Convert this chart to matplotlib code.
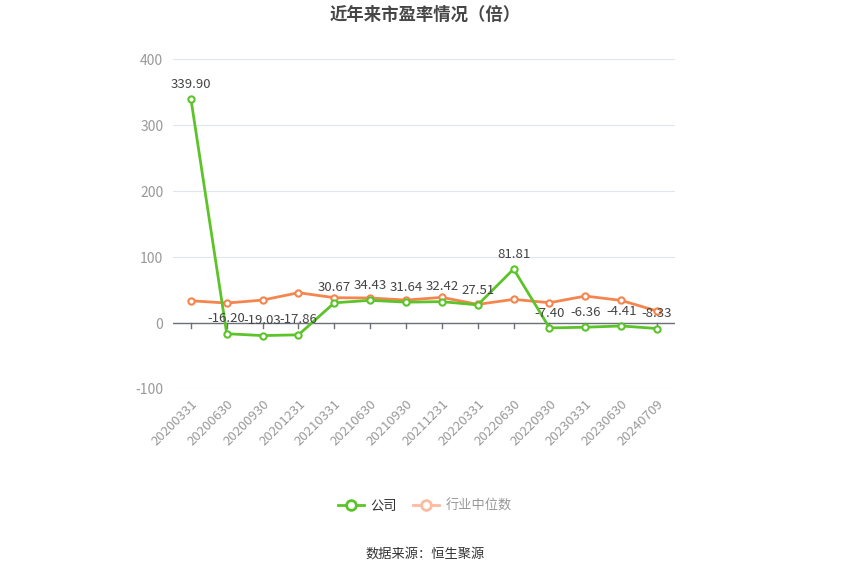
import matplotlib
matplotlib.use('Agg')
import matplotlib.pyplot as plt
from matplotlib.lines import Line2D

plt.rcParams['font.family'] = ['Noto Sans CJK SC', 'DejaVu Sans']
plt.rcParams['axes.unicode_minus'] = False

dates = ['20200331', '20200630', '20200930', '20201231', '20210331', '20210630',
         '20210930', '20211231', '20220331', '20220630', '20220930', '20230331',
         '20230630', '20240709']
company = [339.90, -16.20, -19.03, -17.86, 30.67, 34.43, 31.64, 32.42, 27.51,
           81.81, -7.40, -6.36, -4.41, -8.33]
industry = [33.8, 30.3, 34.8, 46.0, 38.4, 38.0, 34.8, 38.9, 28.3, 35.9, 30.8,
            40.9, 34.3, 18.2]

green = '#5cc42a'
orange = '#f5854f'

fig = plt.figure(figsize=(8.5, 5.75), dpi=100)
ax = fig.add_axes([0.2035, 0.3235, 0.5906, 0.5735])

x = list(range(len(dates)))
ax.plot(x, industry, color=orange, lw=2, marker='o', ms=4.5, mfc='white',
        mec=orange, mew=1.5, zorder=3)
ax.plot(x, company, color=green, lw=2, marker='o', ms=4.5, mfc='white',
        mec=green, mew=1.5, zorder=4)

for xi, v in zip(x, company):
    ax.annotate(f'{v:.2f}', (xi, v), xytext=(0, 6), textcoords='offset points',
                ha='center', va='bottom', fontsize=9.5, color='#444444', zorder=5)

ax.set_xlim(-0.5, len(dates) - 0.5)
ax.set_ylim(-100, 400)
ax.set_yticks([-100, 0, 100, 200, 300, 400])
ax.grid(axis='y', color='#e0e6f1', lw=0.8)
ax.set_axisbelow(True)
ax.axhline(0, color='#6e7079', lw=1, zorder=2)
for s in ax.spines.values():
    s.set_visible(False)

ax.set_xticks(x)
ax.set_xticklabels(dates, rotation=45, ha='right', rotation_mode='anchor',
                   fontsize=9.5, color='#999999')
ax.tick_params(axis='x', length=0, pad=6)
ax.tick_params(axis='y', length=0, labelsize=10, labelcolor='#999999', pad=7)
for xi in x:
    ax.plot([xi, xi], [0, -7], color='#6e7079', lw=1, zorder=2, clip_on=False)

fig.text(0.5, 0.975, '近年来市盈率情况（倍）', ha='center', va='center',
         fontsize=12.5, fontweight='bold', color='#464646')

handles = [
    Line2D([], [], color=green, lw=2, marker='o', ms=7, mfc='white', mec=green, mew=2),
    Line2D([], [], color='#fbbba0', lw=2, marker='o', ms=7, mfc='white', mec='#fbbba0', mew=2),
]
leg = fig.legend(handles, ['公司', '行业中位数'], loc='center', bbox_to_anchor=(0.5, 0.12),
                 ncol=2, frameon=False, fontsize=9.5, handlelength=2.0,
                 columnspacing=1.2, handletextpad=0.5)
leg.get_texts()[0].set_color('#333333')
leg.get_texts()[1].set_color('#999999')

fig.text(0.5, 0.036, '数据来源：恒生聚源', ha='center', va='center',
         fontsize=9.5, color='#333333')

fig.savefig('out.png', dpi=100)
